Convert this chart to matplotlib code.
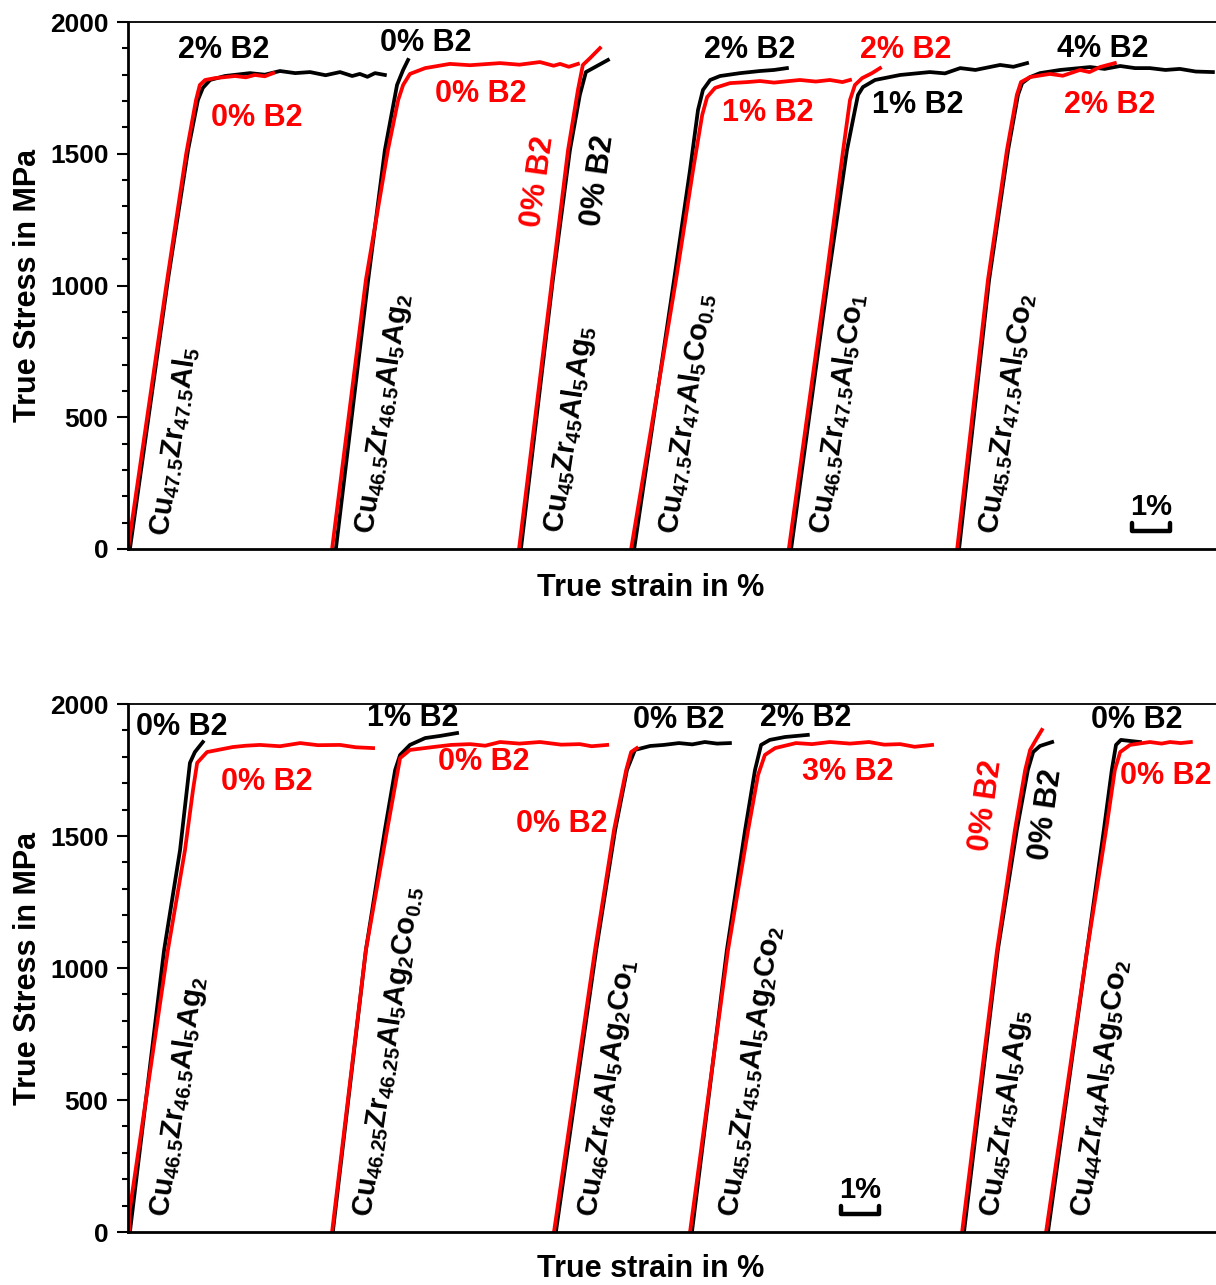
import matplotlib
matplotlib.use("Agg")
import matplotlib.pyplot as plt

plt.rcParams["font.family"] = "Liberation Sans"
plt.rcParams["font.weight"] = "bold"
plt.rcParams["mathtext.fontset"] = "custom"
plt.rcParams["mathtext.rm"] = "Liberation Sans:bold"
plt.rcParams["mathtext.it"] = "Liberation Sans:bold"
plt.rcParams["mathtext.bf"] = "Liberation Sans:bold"
plt.rcParams["mathtext.default"] = "bf"

# ---- stress-strain curves, strain in % (shifted per alloy), stress in MPa ----
# upper panel
top_black_strain = [
    [0.05, 1.05, 1.58, 1.84, 1.97, 2.16, 2.55, 3.21, 3.6, 4.0, 4.4, 4.79, 5.2, 5.58, 5.9, 6.1, 6.3, 6.5, 6.76],
    [5.47, 6.32, 6.76, 7.08, 7.24, 7.37],
    [10.34, 11.18, 11.63, 11.89, 12.05, 12.29, 12.63],
    [13.32, 14.37, 14.79, 15.0, 15.13, 15.32, 15.58, 16.11, 16.63, 17.0, 17.34],
    [17.45, 18.42, 18.92, 19.13, 19.21, 19.34, 19.66, 20.32, 21.1, 21.5, 21.9, 22.3, 22.95, 23.3, 23.66],
    [21.87, 22.66, 23.16, 23.42, 23.53, 23.74, 24.0, 24.53, 25.32, 25.7, 26.11, 26.5, 26.89, 27.3, 27.68, 28.1, 28.55],
]
top_black_stress = [
    [0, 1021, 1514, 1704, 1750, 1780, 1795, 1806, 1800, 1814, 1806, 1810, 1798, 1810, 1795, 1803, 1792, 1806, 1799],
    [0, 1021, 1514, 1761, 1818, 1856],
    [0, 1021, 1514, 1723, 1810, 1829, 1856],
    [0, 1021, 1438, 1666, 1742, 1780, 1795, 1806, 1814, 1818, 1825],
    [0, 1021, 1514, 1666, 1723, 1753, 1780, 1799, 1810, 1805, 1825, 1818, 1837, 1830, 1844],
    [0, 1021, 1514, 1723, 1768, 1791, 1806, 1818, 1829, 1822, 1833, 1825, 1825, 1818, 1822, 1812, 1810],
]
top_red_strain = [
    [0.0, 1.03, 1.53, 1.79, 1.89, 2.03, 2.29, 2.82, 3.1, 3.34, 3.6, 3.82],
    [5.37, 6.26, 6.84, 7.11, 7.24, 7.42, 7.82, 8.47, 9.0, 9.79, 10.3, 10.84, 11.2, 11.37, 11.6, 11.84],
    [10.29, 11.16, 11.58, 11.84, 11.97, 12.16, 12.42],
    [13.24, 14.42, 14.87, 15.11, 15.24, 15.45, 15.84, 16.3, 16.63, 17.0, 17.68, 18.1, 18.47, 18.8, 19.0],
    [17.39, 18.37, 18.82, 19.0, 19.13, 19.32, 19.58, 19.79],
    [21.82, 22.63, 23.13, 23.39, 23.5, 23.74, 24.26, 24.6, 25.05, 25.3, 25.58, 25.97],
]
top_red_stress = [
    [0, 1021, 1499, 1704, 1761, 1780, 1787, 1795, 1790, 1799, 1794, 1806],
    [0, 1021, 1514, 1704, 1761, 1803, 1825, 1841, 1836, 1844, 1838, 1848, 1834, 1841, 1830, 1841],
    [0, 1021, 1514, 1742, 1837, 1863, 1901],
    [0, 1021, 1438, 1647, 1715, 1750, 1768, 1772, 1776, 1770, 1780, 1774, 1780, 1772, 1780],
    [0, 1021, 1514, 1704, 1761, 1787, 1806, 1825],
    [0, 1021, 1514, 1723, 1772, 1791, 1803, 1796, 1818, 1810, 1829, 1844],
]

# lower panel
bot_black_strain = [
    [0.05, 0.95, 1.37, 1.63, 1.76, 1.97],
    [5.39, 6.26, 6.76, 7.03, 7.16, 7.42, 7.82, 8.21, 8.66],
    [11.26, 12.32, 12.82, 13.13, 13.34, 13.74, 14.1, 14.5, 14.85, 15.18, 15.5, 15.84],
    [14.84, 15.76, 16.24, 16.5, 16.66, 16.89, 17.29, 17.89],
    [22.0, 22.89, 23.39, 23.68, 23.82, 24.0, 24.32],
    [24.21, 25.24, 25.68, 25.89, 26.0, 26.13, 26.37, 26.63],
]
bot_black_stress = [
    [0, 1068, 1447, 1777, 1818, 1856],
    [0, 1068, 1523, 1750, 1807, 1845, 1871, 1879, 1890],
    [0, 1068, 1523, 1750, 1826, 1841, 1845, 1852, 1847, 1856, 1850, 1852],
    [0, 1068, 1523, 1750, 1845, 1864, 1875, 1883],
    [0, 1068, 1523, 1750, 1818, 1841, 1856],
    [0, 1068, 1523, 1750, 1845, 1864, 1860, 1856],
]
bot_red_strain = [
    [0.03, 0.03, 1.05, 1.5, 1.71, 1.82, 2.08, 2.76, 3.1, 3.47, 4.0, 4.53, 5.0, 5.58, 6.0, 6.45],
    [5.37, 6.26, 6.82, 7.08, 7.16, 7.42, 8.03, 8.5, 9.0, 9.4, 9.79, 10.3, 10.84, 11.4, 11.89, 12.2, 12.61],
    [11.21, 12.29, 12.79, 13.11, 13.24, 13.39],
    [14.79, 15.79, 16.32, 16.58, 16.76, 17.03, 17.58, 18.0, 18.47, 19.0, 19.5, 19.9, 20.32, 20.7, 21.16],
    [21.95, 22.87, 23.34, 23.61, 23.74, 23.92, 24.05],
    [24.16, 25.24, 25.74, 25.97, 26.11, 26.37, 26.89, 27.2, 27.42, 27.7, 27.97],
]
bot_red_stress = [
    [0, 68, 1068, 1447, 1674, 1777, 1818, 1837, 1842, 1845, 1840, 1852, 1844, 1845, 1836, 1833],
    [0, 1068, 1523, 1731, 1795, 1826, 1837, 1845, 1848, 1842, 1856, 1850, 1856, 1846, 1848, 1840, 1845],
    [0, 1068, 1523, 1750, 1818, 1833],
    [0, 1068, 1523, 1731, 1807, 1833, 1852, 1848, 1856, 1850, 1856, 1846, 1848, 1838, 1845],
    [0, 1068, 1523, 1750, 1826, 1871, 1902],
    [0, 1068, 1523, 1750, 1818, 1845, 1856, 1850, 1856, 1852, 1856],
]

top_alloys = [
    r"Cu$_{47.5}$Zr$_{47.5}$Al$_{5}$",
    r"Cu$_{46.5}$Zr$_{46.5}$Al$_{5}$Ag$_{2}$",
    r"Cu$_{45}$Zr$_{45}$Al$_{5}$Ag$_{5}$",
    r"Cu$_{47.5}$Zr$_{47}$Al$_{5}$Co$_{0.5}$",
    r"Cu$_{46.5}$Zr$_{47.5}$Al$_{5}$Co$_{1}$",
    r"Cu$_{45.5}$Zr$_{47.5}$Al$_{5}$Co$_{2}$",
]
bot_alloys = [
    r"Cu$_{46.5}$Zr$_{46.5}$Al$_{5}$Ag$_{2}$",
    r"Cu$_{46.25}$Zr$_{46.25}$Al$_{5}$Ag$_{2}$Co$_{0.5}$",
    r"Cu$_{46}$Zr$_{46}$Al$_{5}$Ag$_{2}$Co$_{1}$",
    r"Cu$_{45.5}$Zr$_{45.5}$Al$_{5}$Ag$_{2}$Co$_{2}$",
    r"Cu$_{45}$Zr$_{45}$Al$_{5}$Ag$_{5}$",
    r"Cu$_{44}$Zr$_{44}$Al$_{5}$Ag$_{5}$Co$_{2}$",
]

# B2 phase fraction tags
top_tags = ["2% B2", "0% B2", "0% B2", "0% B2", "0% B2", "0% B2",
            "2% B2", "1% B2", "2% B2", "1% B2", "4% B2", "2% B2"]
top_tag_colors = ["k", "r", "k", "r", "r", "k", "k", "r", "r", "k", "k", "r"]
bot_tags = ["0% B2", "0% B2", "1% B2", "0% B2", "0% B2", "0% B2",
            "2% B2", "3% B2", "0% B2", "0% B2", "0% B2", "0% B2"]
bot_tag_colors = ["k", "r", "k", "r", "r", "k", "k", "r", "r", "k", "k", "r"]

# text placement (data coords) and rotation
top_alloy_pos = [(1.05, 46), (6.45, 53), (11.42, 57), (14.45, 53), (18.42, 53), (22.87, 53)]
bot_alloy_pos = [(1.05, 53), (6.39, 53), (12.32, 53), (16.03, 53), (22.89, 53), (25.29, 53)]
top_tag_pos = [(2.53, 1894), (3.39, 1636), (7.84, 1920), (9.29, 1727), (10.79, 1393), (12.37, 1400),
               (16.37, 1894), (16.84, 1655), (20.47, 1894), (20.79, 1685), (25.66, 1898), (25.84, 1685)]
top_tag_rot = [0, 0, 0, 0, 82, 82, 0, 0, 0, 0, 0, 0]
bot_tag_pos = [(1.42, 1913), (3.66, 1705), (7.5, 1947), (9.37, 1780), (11.42, 1545), (14.5, 1939),
               (17.84, 1947), (18.95, 1742), (22.58, 1617), (24.16, 1580), (26.55, 1939), (27.32, 1727)]
bot_tag_rot = [0, 0, 0, 0, 0, 0, 0, 0, 82, 82, 0, 0]

X_MAX = 1088 / 38.0


def draw_panel(ax, bx, by, rx, ry, alloys, alloy_pos, tags, tag_colors, tag_pos, tag_rot, bar_x):
    for xs, ys in zip(bx, by):
        ax.plot(xs, ys, color="black", lw=2.7, solid_joinstyle="round")
    for xs, ys in zip(rx, ry):
        ax.plot(xs, ys, color="#ff0000", lw=2.7, solid_joinstyle="round")

    for name, (x, y) in zip(alloys, alloy_pos):
        ax.text(x, y, name, rotation=81.5, rotation_mode="anchor",
                ha="left", va="baseline", fontsize=21, fontweight="bold")

    for t, c, (x, y), r in zip(tags, tag_colors, tag_pos, tag_rot):
        ax.text(x, y, t, color=c, ha="center", va="center", rotation=r,
                fontsize=22, fontweight="bold")

    # 1% strain scale bar
    ax.plot([bar_x, bar_x, bar_x + 1, bar_x + 1], [100, 68, 68, 100],
            color="black", lw=3.2, solid_capstyle="round", solid_joinstyle="round")
    ax.text(bar_x + 0.5, 160, "1%", ha="center", va="center", fontsize=21, fontweight="bold")

    ax.set_xlim(0, X_MAX)
    ax.set_ylim(0, 2000)
    ax.set_xticks([])
    ax.set_yticks([0, 500, 1000, 1500, 2000])
    ax.set_yticks(range(0, 2001, 100), minor=True)
    ax.tick_params(axis="y", which="major", direction="out", length=8, width=1.5,
                   labelsize=19, pad=6)
    ax.tick_params(axis="y", which="minor", direction="out", length=4, width=1.5)
    for lab in ax.get_yticklabels():
        lab.set_fontweight("bold")
    ax.spines["right"].set_visible(False)
    ax.spines["left"].set_linewidth(2)
    ax.spines["bottom"].set_linewidth(2)
    ax.spines["top"].set_linewidth(1.3)

    ax.set_ylabel("True Stress in MPa", fontsize=22, fontweight="bold")
    ax.yaxis.set_label_coords(-0.078, 0.5)
    ax.set_xlabel("True strain in %", fontsize=22, fontweight="bold")


fig = plt.figure(figsize=(12.16, 12.85), dpi=100)
ax_top = fig.add_axes([128 / 1216, 1 - 549 / 1285, 1 - 128 / 1216, 527 / 1285])
ax_bot = fig.add_axes([128 / 1216, 1 - 1232 / 1285, 1 - 128 / 1216, 528 / 1285])

draw_panel(ax_top, top_black_strain, top_black_stress, top_red_strain, top_red_stress,
           top_alloys, top_alloy_pos, top_tags, top_tag_colors, top_tag_pos, top_tag_rot, 26.42)
ax_top.xaxis.set_label_coords(0.48, -0.045)

draw_panel(ax_bot, bot_black_strain, bot_black_stress, bot_red_strain, bot_red_stress,
           bot_alloys, bot_alloy_pos, bot_tags, bot_tag_colors, bot_tag_pos, bot_tag_rot, 18.76)
ax_bot.xaxis.set_label_coords(0.48, -0.042)

fig.savefig("out.png", dpi=100)
